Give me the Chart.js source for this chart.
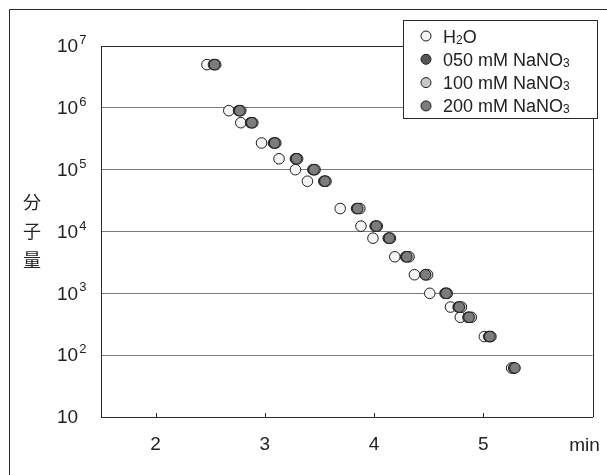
<!DOCTYPE html>
<html>
<head>
<meta charset="utf-8">
<script src="https://cdn.jsdelivr.net/npm/chart.js@4/dist/chart.umd.min.js"></script>
<style>
  html, body { margin: 0; padding: 0; background: #fff; }
  #wrap { width: 607px; height: 475px; }
</style>
</head>
<body>
<div id="wrap"><canvas id="gpcChart" width="607" height="475"></canvas></div>
<script>
// === ДАННЫЕ ===
// молекулярная масса стандартов (общая для всех элюентов)
const molWeight = [5e6, 9e5, 5.75e5, 2.7e5, 1.5e5, 1e5, 6.5e4, 2.35e4, 1.22e4, 7.8e3, 3.9e3, 2e3, 1e3, 600, 410, 200, 62];
// время удерживания, мин
const timeH2O = [2.47, 2.67, 2.78, 2.97, 3.13, 3.28, 3.39, 3.69, 3.88, 3.99, 4.19, 4.37, 4.51, 4.70, 4.79, 5.01, 5.26];
const time050 = [2.53, 2.76, 2.87, 3.08, 3.28, 3.44, 3.54, 3.84, 4.01, 4.13, 4.29, 4.47, 4.65, 4.77, 4.86, 5.05, 5.28];
const time100 = [2.55, 2.78, 2.89, 3.10, 3.30, 3.46, 3.56, 3.87, 4.03, 4.15, 4.32, 4.49, 4.67, 4.80, 4.89, 5.07, 5.28];
const time200 = [2.54, 2.77, 2.88, 3.09, 3.29, 3.45, 3.55, 3.85, 4.02, 4.14, 4.30, 4.47, 4.66, 4.78, 4.87, 5.06, 5.29];

const xTicks = [2, 3, 4, 5];
const xUnit = 'min';
const yTicks = [10, 1e2, 1e3, 1e4, 1e5, 1e6, 1e7];
const yTitle = ['分', '子', '量'];

// подписи легенды: [основной текст, нижний индекс, хвост]
const seriesNames = [
    ['H', '2', 'O'],
    ['050 mM NaNO', '3', ''],
    ['100 mM NaNO', '3', ''],
    ['200 mM NaNO', '3', '']
];
const seriesTimes = [timeH2O, time050, time100, time200];
const seriesFill = ['#f4f4f4', '#565656', '#c9c9c9', '#7c7c7c'];

const LATIN = '"Liberation Sans", Arial, sans-serif';
const CJK = '"Noto Sans CJK JP", sans-serif';

function toPoints(times) {
    return times.map((t, i) => ({ x: t, y: molWeight[i] }));
}

// === ОФОРМЛЕНИЕ: рамки, подписи осей, легенда ===
const decor = {
    id: 'decor',
    beforeDraw(chart) {
        const c = chart.ctx;
        c.save();
        c.fillStyle = '#fff';
        c.fillRect(0, 0, chart.width, chart.height);
        // внешняя рамка рисунка
        c.strokeStyle = '#2a2a2a';
        c.lineWidth = 1;
        c.beginPath();
        c.moveTo(9.5, chart.height);
        c.lineTo(9.5, 9.5);
        c.lineTo(chart.width, 9.5);
        c.stroke();
        c.restore();
    },
    afterDatasetsDraw(chart) {
        const c = chart.ctx;
        const a = chart.chartArea;
        const xs = chart.scales.x, ys = chart.scales.y;
        c.save();
        c.strokeStyle = '#2a2a2a';
        c.lineWidth = 1;
        // правая граница и верх области построения
        c.beginPath();
        c.moveTo(Math.round(a.right) + 0.5, a.bottom);
        c.lineTo(Math.round(a.right) + 0.5, Math.round(a.top) + 0.5);
        c.lineTo(a.left, Math.round(a.top) + 0.5);
        c.stroke();
        // короткие засечки внутрь на оси X
        xTicks.forEach(v => {
            const px = Math.round(xs.getPixelForValue(v)) + 0.5;
            c.beginPath();
            c.moveTo(px, a.bottom);
            c.lineTo(px, a.bottom - 4);
            c.stroke();
        });

        c.fillStyle = '#222';
        // подписи оси X
        c.font = '19px ' + LATIN;
        c.textAlign = 'center';
        c.textBaseline = 'middle';
        xTicks.forEach(v => c.fillText(String(v), xs.getPixelForValue(v), a.bottom + 28));
        c.fillText(xUnit, xs.getPixelForValue(xs.max) - 8, a.bottom + 29);

        // подписи оси Y: 10 с показателем степени
        c.textAlign = 'left';
        yTicks.forEach(v => {
            const py = ys.getPixelForValue(v);
            const exp = Math.round(Math.log10(v));
            c.font = '19px ' + LATIN;
            c.textBaseline = 'middle';
            c.fillText('10', 57, py + 1);
            if (exp > 1) {
                const w = c.measureText('10').width;
                c.font = '13px ' + LATIN;
                c.textBaseline = 'alphabetic';
                c.fillText(String(exp), 57 + w + 1, py - 2);
            }
        });

        // заголовок оси Y по вертикали
        c.font = '18px ' + CJK;
        c.textAlign = 'center';
        c.textBaseline = 'middle';
        yTitle.forEach((ch, i) => c.fillText(ch, 32, 202 + i * 29));

        // легенда
        const lx = 403.5, ly = 20.5, lw = 194, lh = 98;
        c.fillStyle = '#fff';
        c.fillRect(lx, ly, lw, lh);
        c.strokeStyle = '#2a2a2a';
        c.strokeRect(lx, ly, lw, lh);
        chart.data.datasets.forEach((ds, i) => {
            const cy = 36 + i * 23.3;
            c.beginPath();
            c.arc(426, cy, 5, 0, Math.PI * 2);
            c.fillStyle = ds.backgroundColor;
            c.fill();
            c.strokeStyle = ds.borderColor;
            c.lineWidth = 1;
            c.stroke();

            const [main, sub, tail] = seriesNames[i];
            let tx = 443;
            c.fillStyle = '#222';
            c.textAlign = 'left';
            c.textBaseline = 'alphabetic';
            c.font = '18px ' + LATIN;
            c.fillText(main, tx, cy + 6.5);
            tx += c.measureText(main).width;
            c.font = '12px ' + LATIN;
            c.fillText(sub, tx, cy + 7.5);
            tx += c.measureText(sub).width;
            c.font = '18px ' + LATIN;
            c.fillText(tail, tx, cy + 6.5);
        });
        c.restore();
    }
};

// === ГРАФИК ===
new Chart(document.getElementById('gpcChart'), {
    type: 'scatter',
    data: {
        datasets: seriesTimes.map((times, i) => ({
            label: seriesNames[i].join(''),
            data: toPoints(times),
            backgroundColor: seriesFill[i],
            borderColor: '#1e1e1e',
            borderWidth: 1,
            pointRadius: 5.3,
            pointHoverRadius: 5.3,
            // 200 мМ поверх остальных, вода снизу
            order: 3 - i,
            clip: false
        }))
    },
    options: {
        responsive: false,
        animation: false,
        events: [],
        layout: { padding: { left: 101, right: 14.5, top: 46, bottom: 58 } },
        plugins: { legend: { display: false }, tooltip: { enabled: false } },
        scales: {
            x: {
                type: 'linear',
                min: 1.5,
                max: 6,
                ticks: { display: false },
                grid: { display: false },
                border: { display: true, color: '#2a2a2a', width: 1 },
                afterFit: s => { s.height = 0; }
            },
            y: {
                type: 'logarithmic',
                min: 10,
                max: 1e7,
                afterBuildTicks: s => { s.ticks = yTicks.map(v => ({ value: v })); },
                ticks: { display: false },
                grid: { color: '#7a7a7a', lineWidth: 1, drawTicks: false },
                border: { display: true, color: '#2a2a2a', width: 1 },
                afterFit: s => { s.width = 0; }
            }
        }
    },
    plugins: [decor]
});
</script>
</body>
</html>
